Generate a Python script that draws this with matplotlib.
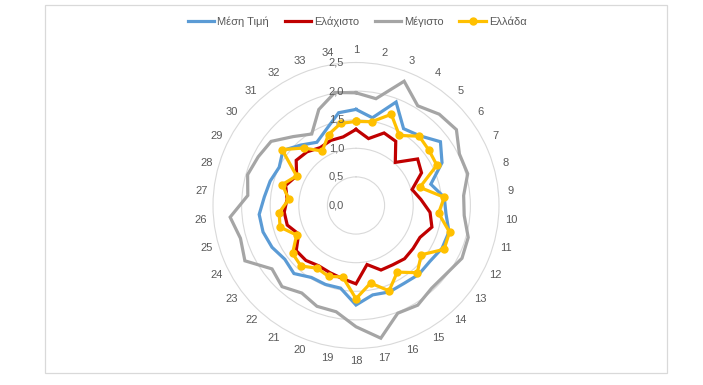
import numpy as np
import matplotlib
matplotlib.use("Agg")
import matplotlib.pyplot as plt
from matplotlib.patches import Rectangle
from matplotlib.transforms import offset_copy

plt.rcParams['font.family'] = ['Liberation Sans', 'DejaVu Sans']

categories = [str(i) for i in range(1, 35)]

mesi_timi = [1.68, 1.56, 1.94, 1.58, 1.65, 1.85, 1.68, 1.36, 1.55, 1.58,
             1.69, 1.68, 1.62, 1.63, 1.60, 1.62, 1.59, 1.74, 1.47, 1.48,
             1.48, 1.61, 1.56, 1.64, 1.69, 1.70, 1.61, 1.56, 1.50, 1.60,
             1.43, 1.30, 1.43, 1.65]
elaxisto = [1.33, 1.19, 1.36, 1.32, 1.02, 1.35, 1.28, 1.02, 1.14, 1.30,
            1.38, 1.25, 1.25, 1.26, 1.22, 1.21, 1.05, 1.37, 1.30, 1.26,
            1.24, 1.30, 1.31, 1.12, 1.25, 1.26, 1.21, 1.28, 1.16, 1.31,
            1.27, 1.19, 1.22, 1.22]
megisto = [1.97, 1.90, 2.33, 2.05, 2.16, 2.20, 2.02, 2.03, 1.89, 1.90,
           2.04, 2.07, 1.98, 1.96, 2.05, 2.02, 2.36, 2.12, 1.89, 1.89,
           1.80, 1.92, 1.84, 2.17, 2.10, 2.21, 1.90, 1.97, 1.91, 1.86,
           1.63, 1.47, 1.80, 2.01]
ellada = [1.47, 1.49, 1.71, 1.44, 1.64, 1.60, 1.58, 1.16, 1.55, 1.45,
          1.70, 1.72, 1.43, 1.59, 1.37, 1.60, 1.38, 1.63, 1.27, 1.33,
          1.29, 1.43, 1.39, 1.16, 1.38, 1.35, 1.18, 1.34, 1.16, 1.62,
          1.36, 1.12, 1.33, 1.46]

r_ticks = [0.0, 0.5, 1.0, 1.5, 2.0, 2.5]
r_labels = ['0,0', '0,5', '1,0', '1,5', '2,0', '2,5']

series = [
    ("Μέση Τιμή", mesi_timi, "#5B9BD5", None),
    ("Ελάχιστο", elaxisto, "#C00000", None),
    ("Μέγιστο", megisto, "#A5A5A5", None),
    ("Ελλάδα", ellada, "#FFC000", "o"),
]

text_color = "#595959"
grid_color = "#D9D9D9"

fig = plt.figure(figsize=(7.03, 3.85), dpi=100)

# chart border
fig.patches.append(Rectangle((45 / 703, 1 - 373 / 385), 622 / 703, 368 / 385,
                             transform=fig.transFigure, fill=False,
                             edgecolor=grid_color, linewidth=0.9))

ax = fig.add_axes([0.3030, 0.0948, 0.4068, 0.7429], projection='polar')
ax.set_theta_zero_location('N')
ax.set_theta_direction(-1)

n = len(categories)
angles = np.linspace(0, 2 * np.pi, n, endpoint=False)
closed = np.append(angles, angles[0])

for name, vals, color, marker in series:
    v = np.append(vals, vals[0])
    ax.plot(closed, v, color=color, linewidth=2.3, label=name,
            marker=marker, markersize=5, solid_joinstyle='miter')

ax.set_ylim(0, 2.5)
ax.set_yticks(r_ticks[1:-1])
ax.set_yticklabels([])
ax.set_xticks(angles)
ax.set_xticklabels(categories, color=text_color, fontsize=8)
ax.tick_params(axis='x', pad=-1.5)
ax.xaxis.grid(False)
ax.yaxis.grid(True, color=grid_color, linewidth=0.8)
ax.spines['polar'].set_color(grid_color)
ax.spines['polar'].set_linewidth(0.8)

# radial value labels, left of the top axis
trans = offset_copy(ax.transData, fig=fig, x=-12, y=0, units='dots')
for r, lbl in zip(r_ticks, r_labels):
    ax.text(0, r, lbl, transform=trans, ha='right', va='center',
            fontsize=8, color=text_color)

fig.legend(loc='center', bbox_to_anchor=(0.508, 0.943), ncol=4,
           frameon=False, fontsize=8, labelcolor=text_color,
           handlelength=2.4, handletextpad=0.25, columnspacing=1.4)

fig.savefig("out.png", dpi=100)
